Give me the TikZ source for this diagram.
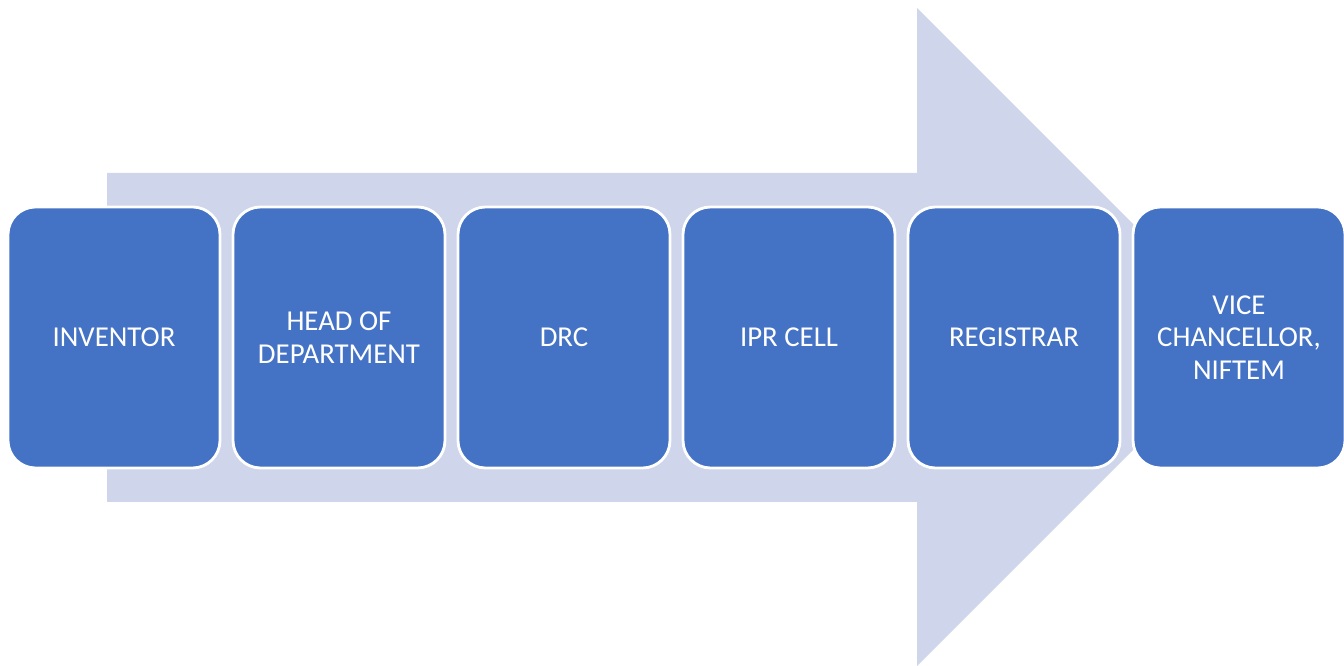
\documentclass[tikz,border=0pt]{standalone}
\usepackage{fontspec}
\setmainfont{Carlito}
\usepackage{xcolor}
\usetikzlibrary{positioning,calc}

\definecolor{stepblue}{HTML}{4472C4}
\definecolor{arrowgray}{HTML}{CFD5EA}

\begin{document}
\begin{tikzpicture}[
    stage/.style={rectangle, rounded corners=0.55cm, draw=white, line width=1.6pt, fill=stepblue,
                  minimum width=4.24cm, minimum height=5.22cm, text=white, align=center,
                  font=\fontsize{16.4}{18.6}\selectfont, inner sep=0pt},
    flow/.style={fill=arrowgray, draw=none}
]
    \useasboundingbox (0,0) rectangle (26.88,13.32);

    % Background arrow
    \coordinate (tail top) at (2.14,9.86);
    \coordinate (tail bot) at (2.14,3.28);
    \coordinate (head top) at (18.34,13.16);
    \coordinate (head bot) at (18.34,0);
    \coordinate (tip) at (24.92,6.58);
    \fill[flow] (tail bot) -- (tail top) -- (18.34,9.86) -- (head top)
        -- (tip) -- (head bot) -- (18.34,3.28) -- cycle;

    % Stages
    \node[stage] (inv) at (2.28,6.57) {INVENTOR};
    \node[stage] (hod) at (6.78,6.57) {HEAD OF\\DEPARTMENT};
    \node[stage] (drc) at (11.28,6.57) {DRC};
    \node[stage] (ipr) at (15.78,6.57) {IPR CELL};
    \node[stage] (reg) at (20.28,6.57) {REGISTRAR};
    \node[stage] (vc) at (24.78,6.57) {VICE\\CHANCELLOR,\\NIFTEM};
\end{tikzpicture}
\end{document}
